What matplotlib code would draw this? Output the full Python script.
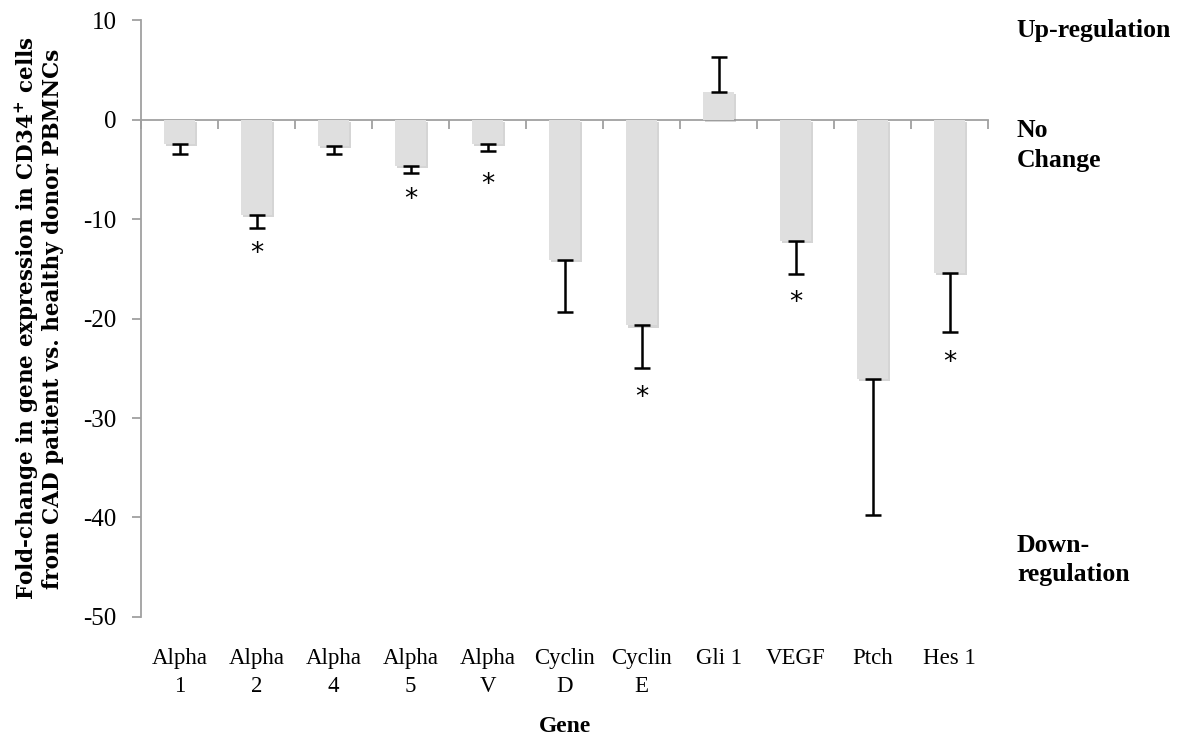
import matplotlib.pyplot as plt
import matplotlib.patheffects as pe
import numpy as np

# gene names and fold-change values
genes = ['Alpha\n1', 'Alpha\n2', 'Alpha\n4', 'Alpha\n5', 'Alpha\nV',
         'Cyclin\nD', 'Cyclin\nE', 'Gli 1', 'VEGF', 'Ptch', 'Hes 1']
fold_change = [-2.5, -9.6, -2.7, -4.7, -2.45, -14.1, -20.7, 2.8, -12.2, -26.1, -15.4]
error = [1.0, 1.3, 0.75, 0.7, 0.75, 5.2, 4.3, 3.5, 3.3, 13.6, 6.0]
# where the significance asterisks sit (None = not significant)
star_y = [None, -13.5, None, -8.1, -6.6, None, -28.0, None, -18.4, None, -24.5]

plt.rcParams['font.family'] = ['Liberation Serif', 'DejaVu Serif']
plt.rcParams['mathtext.default'] = 'regular'
plt.rcParams['axes.unicode_minus'] = False

fig = plt.figure(figsize=(11.87, 7.39), dpi=100)
ax = fig.add_axes([0.1188, 0.1651, 0.7136, 0.8078])

x = np.arange(len(genes))
vals = np.array(fold_change)
err = np.array(error)
lower = np.where(vals < 0, err, 0)
upper = np.where(vals > 0, err, 0)

bars = ax.bar(x, vals, width=0.4, color='#dfdfdf', zorder=2)
for b in bars:
    b.set_path_effects([pe.SimplePatchShadow(offset=(1.5, -1.5), shadow_rgbFace='#888888', alpha=0.35),
                        pe.Normal()])
ax.errorbar(x, vals, yerr=[lower, upper], fmt='none', ecolor='black',
            elinewidth=1.8, capsize=6, capthick=1.8, zorder=3)

for xi, sy in zip(x, star_y):
    if sy is not None:
        ax.text(xi, sy, '*', ha='center', va='center', fontsize=19, family='DejaVu Sans')

ax.set_xlim(-0.5, len(genes) - 0.5)
ax.set_ylim(-50, 10)
ax.set_yticks(range(-50, 11, 10))
ax.set_xticks(x)
ax.set_xticklabels(genes, fontsize=16.5, linespacing=1.45)
ax.tick_params(axis='x', length=0, pad=22)
ax.tick_params(axis='y', direction='out', length=6.5, width=1.3, color='#a0a0a0',
               labelsize=18, pad=11)

for s in ['top', 'right', 'bottom']:
    ax.spines[s].set_visible(False)
ax.spines['left'].set_color('#a0a0a0')
ax.spines['left'].set_linewidth(1.3)

# zero line with category boundary ticks
zero = ax.secondary_xaxis((0 - (-50)) / 60)
zero.set_xticks(np.arange(len(genes) + 1) - 0.5)
zero.set_xticklabels([])
zero.tick_params(direction='in', length=6.5, width=1.3, color='#a0a0a0')
for s in zero.spines.values():
    s.set_color('#a0a0a0')
    s.set_linewidth(1.3)
zero.set_zorder(1)

ax.set_xlabel('Gene', fontsize=17, fontweight='bold', labelpad=14)
ax.set_ylabel('Fold-change in gene expression in CD34$^{+}$ cells\nfrom CAD patient vs. healthy donor PBMNCs',
              fontsize=15.5, fontweight='bold', family='DejaVu Serif', labelpad=14, linespacing=1.05)

side = dict(transform=ax.get_yaxis_transform(), fontsize=18.5, fontweight='bold',
            family='Liberation Serif', ha='left', va='center', linespacing=1.35)
ax.text(1.034, 8.9, 'Up-regulation', **side)
ax.text(1.034, -2.6, 'No\nChange', **side)
ax.text(1.034, -44.3, 'Down-\nregulation', **side)

fig.savefig('out.png', dpi=100)
